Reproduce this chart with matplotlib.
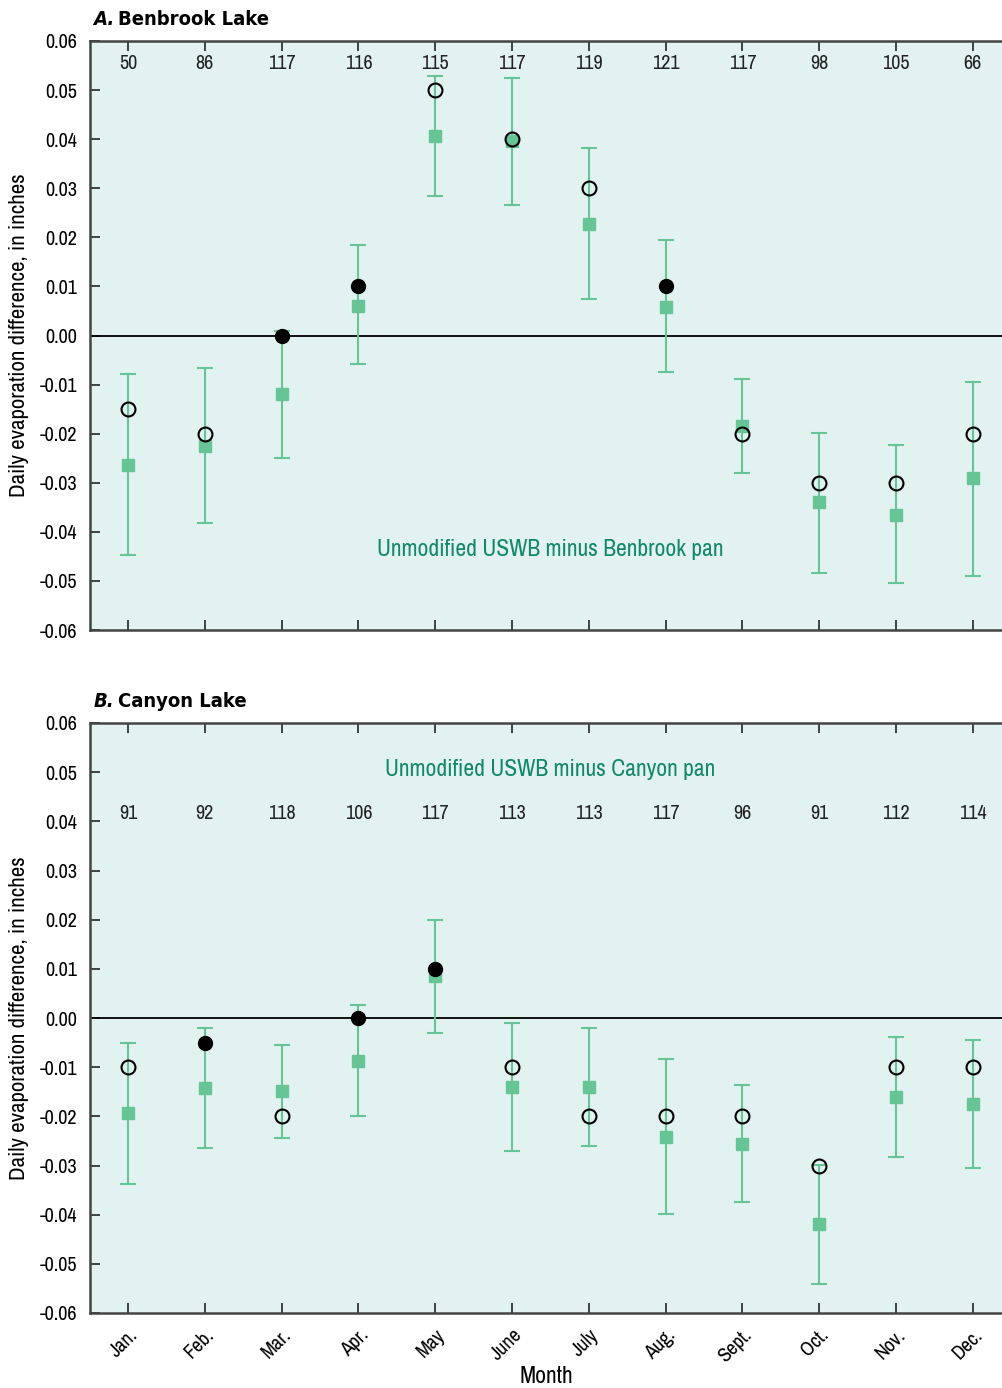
import matplotlib
matplotlib.use("Agg")
import matplotlib.pyplot as plt
import numpy as np

plt.rcParams['font.family'] = ['Archivo Narrow', 'DejaVu Sans']

months = ["Jan.", "Feb.", "Mar.", "Apr.", "May", "June", "July", "Aug.", "Sept.", "Oct.", "Nov.", "Dec."]

# Panel A - Benbrook Lake
a_counts = [50, 86, 117, 116, 115, 117, 119, 121, 117, 98, 105, 66]
a_mean = [-0.0263, -0.0226, -0.0120, 0.0061, 0.0407, 0.0397, 0.0228, 0.0059, -0.0185, -0.0340, -0.0365, -0.0291]
a_upper = [-0.0079, -0.0067, 0.0010, 0.0185, 0.0528, 0.0524, 0.0381, 0.0194, -0.0088, -0.0198, -0.0224, -0.0094]
a_lower = [-0.0448, -0.0383, -0.0249, -0.0059, 0.0285, 0.0265, 0.0075, -0.0075, -0.0281, -0.0483, -0.0505, -0.0489]
a_median = [-0.015, -0.02, 0.0, 0.01, 0.05, 0.04, 0.03, 0.01, -0.02, -0.03, -0.03, -0.02]
a_filled = [False, False, True, True, False, False, False, True, False, False, False, False]

# Panel B - Canyon Lake
b_counts = [91, 92, 118, 106, 117, 113, 113, 117, 96, 91, 112, 114]
b_mean = [-0.0193, -0.0142, -0.0148, -0.0087, 0.0085, -0.0140, -0.0140, -0.0242, -0.0256, -0.0419, -0.0161, -0.0175]
b_upper = [-0.0051, -0.0020, -0.0055, 0.0026, 0.0199, -0.0010, -0.0020, -0.0083, -0.0136, -0.0299, -0.0039, -0.0045]
b_lower = [-0.0338, -0.0264, -0.0244, -0.0199, -0.0031, -0.0270, -0.0260, -0.0399, -0.0374, -0.0541, -0.0283, -0.0305]
b_median = [-0.01, -0.005, -0.02, 0.0, 0.01, -0.01, -0.02, -0.02, -0.02, -0.03, -0.01, -0.01]
b_filled = [False, True, False, True, True, False, False, False, False, False, False, False]

bg = "#e2f2f0"
green = "#66c495"
teal = "#13876a"

fig = plt.figure(figsize=(10.02, 13.88), dpi=100)
ax1 = fig.add_axes([90 / 1002, 1 - 630 / 1388, 912 / 1002, 589 / 1388])
ax2 = fig.add_axes([90 / 1002, 1 - 1313 / 1388, 912 / 1002, 590 / 1388])

x = np.arange(1, 13)
yt = np.round(np.arange(-0.06, 0.061, 0.01), 2)


def draw(ax, counts, mean, upper, lower, median, filled, letter, lake, label, label_y, count_y):
    ax.set_facecolor(bg)
    mean = np.array(mean)
    yerr = [mean - np.array(lower), np.array(upper) - mean]
    ax.errorbar(x, mean, yerr=yerr, fmt="s", color=green, ms=8.5, elinewidth=1.5,
                capsize=6, capthick=1.5, zorder=3)
    med = np.array(median)
    f = np.array(filled)
    ax.plot(x[~f], med[~f], "o", mfc="none", mec="black", mew=1.5, ms=10, zorder=4)
    ax.plot(x[f], med[f], "o", mfc="black", mec="black", ms=10, zorder=4)
    ax.axhline(0, color="black", lw=1.3, zorder=2)
    for xi, c in zip(x, counts):
        ax.text(xi, count_y, str(c), ha="center", va="center", fontsize=14.5, color="#222222")
    ax.text(6.5, label_y, label, ha="center", va="center", fontsize=17, color=teal)
    ax.set_xlim(0.505, 12.38)
    ax.set_ylim(-0.06, 0.06)
    ax.set_yticks(yt)
    ax.set_yticklabels(["%.2f" % v if v != 0 else "0.00" for v in yt])
    ax.set_xticks(x)
    ax.tick_params(axis="both", direction="in", length=7, width=1.3, colors="#333333",
                   labelcolor="black", labelsize=14.5, top=True)
    ax.tick_params(axis="y", pad=9)
    ax.tick_params(axis="x", pad=9)
    for s in ["left", "bottom", "top"]:
        ax.spines[s].set_linewidth(1.8)
        ax.spines[s].set_color("#444444")
    ax.spines["right"].set_visible(False)
    ax.set_ylabel("Daily evaporation difference, in inches", fontsize=16.5, labelpad=8)
    ax.text(0.004, 1.027, letter, transform=ax.transAxes, ha="left", va="baseline",
            fontsize=14.5, fontweight="bold", fontstyle="italic",
            family="DejaVu Sans", fontstretch="condensed")
    ax.text(0.031, 1.027, lake, transform=ax.transAxes, ha="left", va="baseline",
            fontsize=14.5, fontweight="bold", family="DejaVu Sans", fontstretch="condensed")


draw(ax1, a_counts, a_mean, a_upper, a_lower, a_median, a_filled,
     "A.", "Benbrook Lake", "Unmodified USWB minus Benbrook pan", -0.0435, 0.0555)
draw(ax2, b_counts, b_mean, b_upper, b_lower, b_median, b_filled,
     "B.", "Canyon Lake", "Unmodified USWB minus Canyon pan", 0.0505, 0.0415)

ax1.set_xticklabels([])
ax2.set_xticklabels(months, rotation=45, ha="right", rotation_mode="anchor", fontsize=14.5)
ax2.set_xlabel("Month", fontsize=17, labelpad=0)

fig.savefig("out.png", dpi=100)
